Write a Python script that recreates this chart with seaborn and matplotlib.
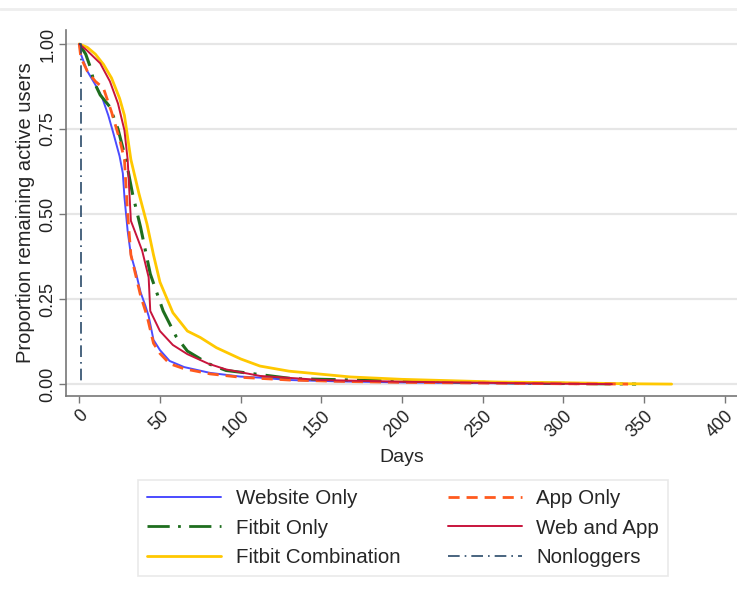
import matplotlib
matplotlib.use("Agg")
import matplotlib.pyplot as plt
import seaborn as sns
import pandas as pd
from matplotlib.lines import Line2D

sns.set_theme(style="white")
plt.rcParams['font.family'] = ['Liberation Sans', 'DejaVu Sans']

# ---- data ----
web_days = [0, 1, 5, 10, 14, 18, 21, 25, 27, 28, 30, 32, 35, 38, 41, 43, 46, 50, 56, 65, 81, 100, 112, 130, 160, 200, 250, 300]
web_surv = [1.0, 0.97, 0.92, 0.88, 0.845, 0.79, 0.74, 0.67, 0.62, 0.55, 0.45, 0.38, 0.33, 0.27, 0.23, 0.2, 0.13, 0.1, 0.068, 0.05, 0.033, 0.022, 0.019, 0.012, 0.008, 0.005, 0.003, 0.0]

app_days = [0, 1, 5, 10, 15, 20, 25, 28, 30, 32, 35, 38, 42, 46, 50, 56, 65, 81, 100, 130, 160, 200, 250, 300, 340]
app_surv = [1.0, 0.96, 0.92, 0.89, 0.87, 0.8, 0.72, 0.66, 0.5, 0.38, 0.32, 0.26, 0.2, 0.12, 0.09, 0.06, 0.045, 0.03, 0.02, 0.012, 0.008, 0.005, 0.003, 0.001, 0.0]

fit_days = [0, 4, 7, 9, 13, 19, 24, 29, 33, 38, 44, 52, 60, 67, 80, 91, 100, 132, 178, 250, 300, 345]
fit_surv = [1.0, 0.97, 0.93, 0.89, 0.85, 0.815, 0.75, 0.658, 0.56, 0.461, 0.324, 0.215, 0.14, 0.097, 0.06, 0.04, 0.035, 0.016, 0.011, 0.005, 0.002, 0.0]

webapp_days = [0, 5, 13, 19, 24, 28, 30, 32, 36, 39, 43, 44, 50, 58, 67, 80, 91, 112, 150, 200, 250, 300, 330]
webapp_surv = [1.0, 0.98, 0.943, 0.89, 0.825, 0.746, 0.66, 0.48, 0.43, 0.392, 0.314, 0.215, 0.156, 0.115, 0.088, 0.06, 0.043, 0.024, 0.012, 0.007, 0.004, 0.001, 0.0]

combo_days = [0, 5, 10, 15, 20, 25, 28, 32, 37, 42, 46, 50, 58, 67, 75, 85, 100, 112, 130, 168, 200, 260, 300, 340, 367]
combo_surv = [1.0, 0.99, 0.97, 0.94, 0.9, 0.84, 0.79, 0.66, 0.56, 0.47, 0.38, 0.3, 0.21, 0.156, 0.137, 0.107, 0.074, 0.053, 0.038, 0.021, 0.014, 0.006, 0.004, 0.001, 0.0]

non_days = [0, 1, 1]
non_surv = [1.0, 1.0, 0.01]

x_ticks = [0, 50, 100, 150, 200, 250, 300, 350, 400]
y_ticks = [0.0, 0.25, 0.5, 0.75, 1.0]
y_labels = ["0.00", "0.25", "0.50", "0.75", "1.00"]

series = [
    ("Website Only", web_days, web_surv, "#4b4bff", "-", 1.4),
    ("Fitbit Only", fit_days, fit_surv, "#1e6e1e", (0, (8, 3, 1, 3)), 2.2),
    ("Fitbit Combination", combo_days, combo_surv, "#ffc800", "-", 2.0),
    ("App Only", app_days, app_surv, "#ff5a1e", (0, (4, 2.5)), 2.0),
    ("Web and App", webapp_days, webapp_surv, "#c8143c", "-", 1.4),
    ("Nonloggers", non_days, non_surv, "#2a4a6a", (0, (7, 3, 1, 3)), 1.2),
]

fig = plt.figure(figsize=(7.37, 5.94), dpi=100)
ax = fig.add_axes([66/737, 1 - 396/594, 1 - 66/737, (396 - 30)/594])

for name, d, s, c, ls, lw in series:
    df = pd.DataFrame({"days": d, "surv": s})
    sns.lineplot(data=df, x="days", y="surv", ax=ax, color=c, linestyle=ls,
                 linewidth=lw, sort=False, estimator=None, legend=False)

ax.set_xlim(-8.2, 407.5)
ax.set_ylim(-0.035, 1.041)
ax.set_xticks(x_ticks)
ax.set_xticklabels([str(v) for v in x_ticks], rotation=45, fontsize=13,
                   ha="right", rotation_mode="anchor")
ax.set_yticks(y_ticks)
ax.set_yticklabels(y_labels, rotation=90, fontsize=13, va="center")
ax.set_xlabel("Days", fontsize=14, labelpad=6)
ax.set_ylabel("Proportion remaining active users", fontsize=14.5, labelpad=3)
ax.yaxis.grid(True, color="#e6e6e6", linewidth=1.6)
ax.xaxis.grid(False)
for side in ["top", "right"]:
    ax.spines[side].set_visible(False)
for side in ["left", "bottom"]:
    ax.spines[side].set_color("#777777")
    ax.spines[side].set_linewidth(1.2)
ax.tick_params(axis="both", which="both", length=5, width=1.0, color="#777777",
               direction="out", bottom=True, left=True, colors="#222222")
ax.tick_params(axis="x", pad=3)
ax.tick_params(axis="y", pad=2)

handles = []
for name, d, s, c, ls, lw in series:
    handles.append(Line2D([0], [0], color=c, linestyle=ls, linewidth=min(lw, 2.0), label=name))
leg = fig.legend(handles=handles, loc="center", bbox_to_anchor=(403/737, 1 - 528/594),
                 ncol=2, fontsize=14.8, frameon=True, fancybox=False, handlelength=3.6,
                 columnspacing=2.3, handletextpad=0.7, labelspacing=0.52,
                 borderpad=0.45, edgecolor="#e4e4e4")
leg.get_frame().set_linewidth(1.2)

fig.add_artist(Line2D([0, 1], [1 - 9/594, 1 - 9/594], color="#eeeeee", linewidth=2,
                      transform=fig.transFigure))

fig.savefig("out.png", dpi=100)
